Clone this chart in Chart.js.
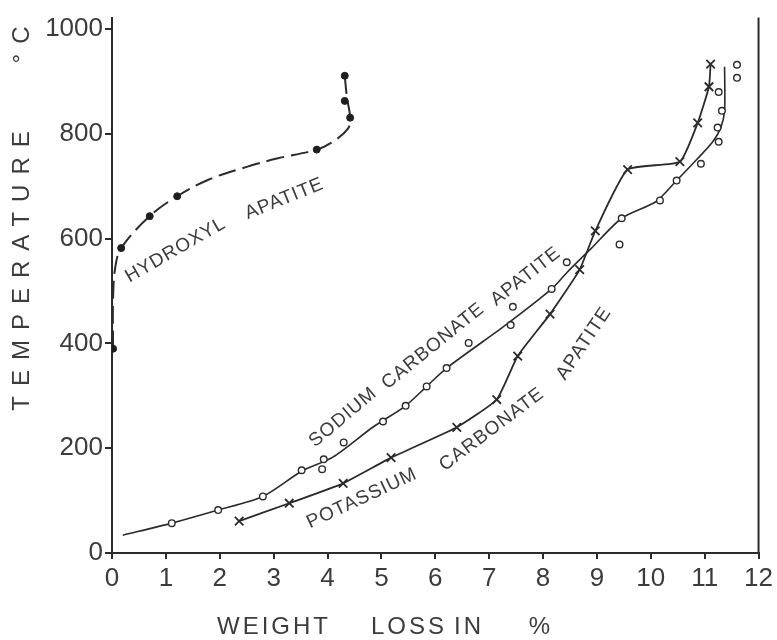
<!DOCTYPE html>
<html>
<head>
<meta charset="utf-8">
<script src="https://cdn.jsdelivr.net/npm/chart.js@4.4.1/dist/chart.umd.min.js"></script>
<style>
  html, body { margin: 0; padding: 0; background: #fff; }
  #wrap { width: 777px; height: 640px; position: relative; }
</style>
</head>
<body>
<div id="wrap"><canvas id="chart"></canvas></div>
<script>
// axis ticks
const xTicks = [0, 1, 2, 3, 4, 5, 6, 7, 8, 9, 10, 11, 12];
const yTicks = [0, 200, 400, 600, 800, 1000];

// hydroxyl apatite: measured points (filled dots) and the drawn curve
const hydroxylLoss = [0.02, 0.17, 0.70, 1.21, 3.80, 4.42, 4.32, 4.32];
const hydroxylTemp = [390, 582, 643, 681, 770, 831, 863, 911];
const hydroxylCurveLoss = [0.02, 0.02, 0.06, 0.17, 0.70, 1.21, 1.80, 2.50, 3.06, 3.80, 4.10, 4.38, 4.42, 4.36, 4.32];
const hydroxylCurveTemp = [390, 487, 545, 582, 643, 681, 713, 737, 753, 770, 785, 810, 831, 870, 911];

// sodium carbonate apatite: open circles and curve
const sodiumLoss = [1.11, 1.97, 2.80, 3.52, 3.90, 3.93, 4.30, 5.03, 5.45, 5.84, 6.21, 6.62, 7.40, 7.44, 8.16, 8.44, 9.42, 9.46, 10.17, 10.48, 10.93, 11.26, 11.24, 11.32, 11.26, 11.60, 11.60];
const sodiumTemp = [57, 82, 108, 158, 160, 179, 211, 251, 281, 318, 353, 401, 435, 470, 504, 555, 589, 639, 673, 711, 743, 785, 812, 844, 880, 907, 932];
const sodiumCurveLoss = [0.20, 1.11, 1.97, 2.80, 3.52, 4.10, 4.84, 5.45, 5.84, 6.21, 7.33, 8.16, 8.44, 8.90, 9.46, 10.10, 10.48, 10.87, 11.15, 11.30, 11.37, 11.37];
const sodiumCurveTemp = [34, 57, 82, 108, 156, 183, 240, 281, 318, 353, 437, 504, 535, 582, 639, 671, 711, 753, 785, 812, 845, 928];

// potassium carbonate apatite: crosses, curve runs through them
const potassiumLoss = [2.36, 3.29, 4.29, 5.18, 6.40, 7.14, 7.53, 8.13, 8.68, 8.97, 9.57, 10.54, 10.87, 11.08, 11.11];
const potassiumTemp = [61, 95, 133, 182, 240, 293, 376, 456, 541, 615, 732, 747, 821, 890, 933];

// words written along the curves (anchored in data units)
const curveLabels = [
  { text: 'HYDROXYL', loss: 1.18, temp: 578, angle: -30 },
  { text: 'APATITE', loss: 3.20, temp: 676, angle: -22 },
  { text: 'SODIUM', loss: 4.29, temp: 259, angle: -40 },
  { text: 'CARBONATE', loss: 5.96, temp: 395, angle: -39 },
  { text: 'APATITE', loss: 7.68, temp: 528, angle: -38 },
  { text: 'POTASSIUM', loss: 4.64, temp: 104, angle: -25 },
  { text: 'CARBONATE', loss: 7.05, temp: 236, angle: -37 },
  { text: 'APATITE', loss: 8.76, temp: 400, angle: -56 }
];

// words of the x title and their pixel centres
const xTitleWords = ['WEIGHT', 'LOSS', 'IN', '%'];
const xTitleCentres = [274, 409, 469, 541];

const ink = '#2b2b2b';
const textInk = '#3c3c3c';
const font = '"Liberation Sans", Arial, sans-serif';

function pts(xs, ys) {
  return xs.map((x, i) => ({ x: x, y: ys[i] }));
}

const decorPlugin = {
  id: 'decor',
  afterDraw(chart) {
    const ctx = chart.ctx;
    const a = chart.chartArea;
    const xs = chart.scales.x, ys = chart.scales.y;
    ctx.save();
    // right frame line
    ctx.strokeStyle = ink;
    ctx.lineWidth = 2;
    ctx.beginPath();
    ctx.moveTo(a.right, a.top);
    ctx.lineTo(a.right, a.bottom);
    ctx.stroke();

    ctx.fillStyle = textInk;
    ctx.textAlign = 'center';
    ctx.textBaseline = 'middle';

    // curve labels
    ctx.font = '19px ' + font;
    ctx.letterSpacing = '1px';
    curveLabels.forEach(l => {
      ctx.save();
      ctx.translate(xs.getPixelForValue(l.loss), ys.getPixelForValue(l.temp));
      ctx.rotate(l.angle * Math.PI / 180);
      ctx.fillText(l.text, 0, 0);
      ctx.restore();
    });

    // x title
    ctx.font = '24px ' + font;
    ctx.letterSpacing = '3px';
    xTitleWords.forEach((w, i) => ctx.fillText(w, xTitleCentres[i], 627));

    // y title
    ctx.letterSpacing = '10px';
    ctx.save();
    ctx.translate(22, 266);
    ctx.rotate(-Math.PI / 2);
    ctx.fillText('TEMPERATURE', 0, 0);
    ctx.restore();
    ctx.save();
    ctx.translate(22, 40);
    ctx.rotate(-Math.PI / 2);
    ctx.fillText('°C', 0, 0);
    ctx.restore();
    ctx.restore();
  }
};

new Chart(document.getElementById('chart').getContext('2d'), {
  type: 'scatter',
  data: {
    datasets: [
      {
        label: 'Hydroxyl apatite curve',
        data: pts(hydroxylCurveLoss, hydroxylCurveTemp),
        showLine: true, pointRadius: 0,
        borderColor: ink, borderWidth: 2, borderDash: [18, 7],
        tension: 0.35, order: 1
      },
      {
        label: 'Hydroxyl apatite',
        data: pts(hydroxylLoss, hydroxylTemp),
        pointRadius: 3.5, pointStyle: 'circle',
        backgroundColor: '#1e1e1e', borderColor: '#1e1e1e', order: 0
      },
      {
        label: 'Sodium carbonate apatite curve',
        data: pts(sodiumCurveLoss, sodiumCurveTemp),
        showLine: true, pointRadius: 0,
        borderColor: ink, borderWidth: 1.6,
        tension: 0.25, order: 1
      },
      {
        label: 'Sodium carbonate apatite',
        data: pts(sodiumLoss, sodiumTemp),
        pointRadius: 3.3, pointStyle: 'circle', borderWidth: 1.4,
        backgroundColor: '#ffffff', borderColor: ink, order: 0
      },
      {
        label: 'Potassium carbonate apatite',
        data: pts(potassiumLoss, potassiumTemp),
        showLine: true,
        borderColor: ink, borderWidth: 1.8, tension: 0.15,
        pointStyle: 'crossRot', pointRadius: 6, pointBorderWidth: 1.8,
        pointBorderColor: ink, order: 0
      }
    ]
  },
  options: {
    responsive: true,
    maintainAspectRatio: false,
    animation: false,
    layout: { padding: { top: 15, right: 18, left: 0, bottom: 0 } },
    plugins: { legend: { display: false }, tooltip: { enabled: false } },
    scales: {
      x: {
        type: 'linear', min: 0, max: 12,
        afterBuildTicks: s => { s.ticks = xTicks.map(v => ({ value: v })); },
        afterFit: s => { s.height = 87; },
        ticks: { color: textInk, font: { family: font, size: 26 }, padding: 4, maxRotation: 0,
                 callback: v => String(v) },
        grid: { drawOnChartArea: false, drawTicks: true, tickLength: 6, color: ink, lineWidth: 2 },
        border: { display: true, color: ink, width: 2 }
      },
      y: {
        type: 'linear', min: 0, max: 1022,
        afterBuildTicks: s => { s.ticks = yTicks.map(v => ({ value: v })); },
        afterFit: s => { s.width = 112; },
        ticks: { color: textInk, font: { family: font, size: 26 }, padding: 2,
                 callback: v => String(v) },
        grid: { drawOnChartArea: false, drawTicks: true, tickLength: 7, color: ink, lineWidth: 2 },
        border: { display: true, color: ink, width: 2 }
      }
    }
  },
  plugins: [decorPlugin]
});
</script>
</body>
</html>
